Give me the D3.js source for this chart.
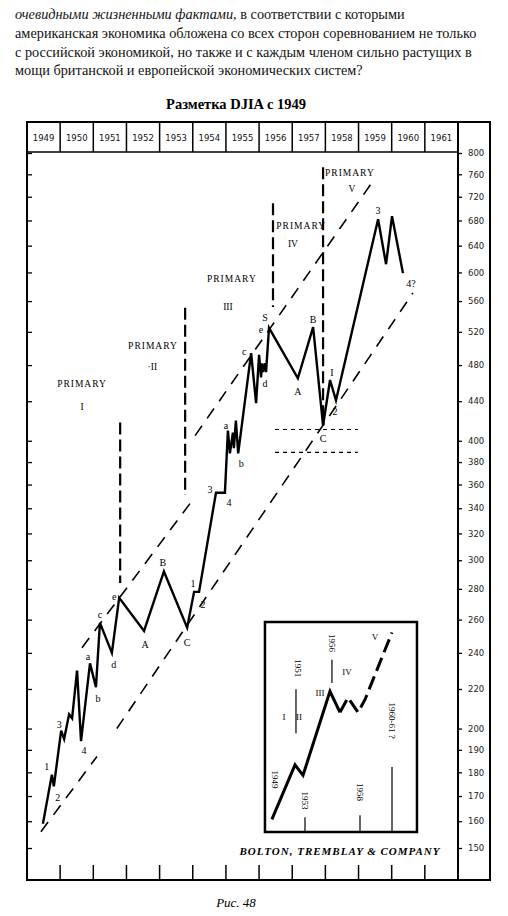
<!DOCTYPE html>
<html><head><meta charset="utf-8">
<script src="https://cdn.jsdelivr.net/npm/d3@7"></script>
<style>body{margin:0;background:#fff}svg{display:block}</style>
</head><body>
<script>
// ---------- data ----------
const years = ["1949","1950","1951","1952","1953","1954","1955","1956","1957","1958","1959","1960","1961"];
const yTicks = [150,160,170,180,190,200,220,240,260,280,300,320,340,360,380,400,440,480,520,560,600,640,680,720,760,800];
const priceYear = [1949.48,1949.75,1949.81,1950.03,1950.12,1950.27,1950.36,1950.51,1950.63,1950.90,1951.08,1951.20,1951.56,1951.78,1952.53,1953.13,1953.83,1954.04,1954.19,1954.70,1954.97,1955.06,1955.12,1955.21,1955.24,1955.30,1955.37,1955.76,1955.91,1956.00,1956.06,1956.09,1956.12,1956.18,1956.21,1956.30,1957.17,1957.63,1957.93,1958.14,1958.32,1959.59,1959.83,1960.01,1960.34];
const priceValue = [159,179,174,199,195,207,205,230,194,234,221,258,240,274,253,292,255,278,278,353,353,410,388,408,393,420,388,494,438,492,466,482,472,482,472,525,465,526,415,463,441,682,612,687,599];
// wave labels: [point index, text, dx, dy]
const waveLabels = [[1,"1",-5,-8],[2,"2",4,12],[3,"3",-2,-6],[8,"4",3,10],[9,"a",-2,-6],[10,"b",2,12],[11,"c",0,-8],[12,"d",2,12],[13,"e",-5,-1],[14,"A",1,14],[15,"B",-1,-8],[16,"C",0,15],[17,"1",-1,-8],[18,"2",4,13],[19,"3",-6,-3],[20,"4",4,10],[21,"a",-2,-5],[26,"b",3,11],[27,"c",-7,-1],[34,"d",-1,12],[35,"e",-8,2],[35,"S",-4,-10],[36,"A",0,14],[37,"B",0,-7],[38,"C",0,14],[39,"I",2,-7],[40,"2",-1,12],[41,"3",0,-8],[44,"4?",8,11]];
const primaryYear = [1950.66,1952.80,1955.18,1957.27,1958.74];
const primaryValue = [460,504,592,673,764];
const primaryNum = ["I","·II","III","IV","V"];
const primaryNumYear = [1950.66,1952.78,1955.06,1957.02,1958.80];
const primaryNumValue = [435,479,553,644,735];
// channel lines [y0,v0,y1,v1]
const channels = [[1950.66,243,1953.92,344],[1954.07,405,1959.44,748],[1949.42,156,1951.11,187],[1951.71,200,1960.64,571]];
const hDotted = [[1956.48,1958.98,411],[1956.48,1958.98,389]];
const vDashed = [[1951.81,418,284],[1953.77,551,351],[1956.42,709,552],[1957.93,773,415]];
// inset schematic
const insetYear = [1949.99,1952.09,1952.82,1955.27,1956.18,1956.91,1957.82,1958.45,1960.91];
const insetLevel = [6,32,27,67,57,64,57,63,95];
const insetTicks = [[1953,7,0],[1958,8,0],[1960.91,31,0],[1952.18,68,47],[1955.45,82,71]];
const insetYearLabels = [["1949",1950.27,25],["1953",1953,15],["1951",1952.36,78],["1956",1955.45,90],["1958",1958,19],["1960-61 ?",1960.91,53]];
const insetWaves = [["I",1951.1,55],["II",1952.45,55],["III",1954.36,66],["IV",1956.82,76],["V",1959.36,93]];

// ---------- drawing ----------
const W=508,H=916;
const svg=d3.select("body").append("svg").attr("width",W).attr("height",H);
const serif="'Liberation Serif','DejaVu Serif',serif";
const L=27,R=458,RA=490,T=122,HB=152,B=880;
const x=d3.scaleLinear().domain([1949,1962]).range([L,R]);
const y=d3.scaleLog().domain([150,800]).range([848,153]);

// paragraph
const para=svg.append("text").attr("font-family",serif).attr("font-size",14.3).attr("fill","#111");
const l1=para.append("tspan").attr("x",15).attr("y",19);
l1.append("tspan").attr("font-style","italic").text("очевидными жизненными фактами");
l1.append("tspan").text(", в соответствии с которыми");
["американская экономика обложена со всех сторон соревнованием не только","с российской экономикой, но также и с каждым членом сильно растущих в","мощи британской и европейской экономических систем?"].forEach((t,i)=>
  para.append("tspan").attr("x",15).attr("y",38+i*18.5).text(t));
svg.append("text").attr("x",236).attr("y",109).attr("text-anchor","middle").attr("font-family",serif)
  .attr("font-weight","bold").attr("font-size",14.5).text("Разметка DJIA с 1949");

// frame
const g=svg.append("g").attr("stroke","#000").attr("fill","none");
g.append("rect").attr("x",L).attr("y",T).attr("width",RA-L).attr("height",B-T).attr("stroke-width",2);
g.append("line").attr("x1",R).attr("x2",R).attr("y1",T).attr("y2",B).attr("stroke-width",2);
g.append("line").attr("x1",L).attr("x2",R).attr("y1",HB).attr("y2",HB).attr("stroke-width",1.5);
years.forEach((yr,i)=>{
  if(i>0) g.append("line").attr("x1",x(1949+i)).attr("x2",x(1949+i)).attr("y1",T).attr("y2",HB).attr("stroke-width",1.5);
  svg.append("text").attr("x",x(1949.5+i)).attr("y",141).attr("text-anchor","middle").attr("font-family","'DejaVu Sans',sans-serif")
    .attr("font-size",8.5).attr("fill","#111").text(yr);
  if(i>0) g.append("line").attr("x1",x(1949+i)).attr("x2",x(1949+i)).attr("y1",B-15).attr("y2",B).attr("stroke-width",1.5);
});
// right axis
const ax=svg.append("g").attr("transform",`translate(${R},0)`)
  .call(d3.axisRight(y).tickValues(yTicks).tickFormat(d3.format("d")).tickSize(4).tickPadding(6));
ax.select(".domain").remove();
ax.selectAll("text").attr("font-family","'DejaVu Sans',sans-serif").attr("font-size",8.5).attr("fill","#222");
ax.selectAll("line").attr("stroke-width",1.3);
// left ticks
const axl=svg.append("g").attr("transform",`translate(${L},0)`)
  .call(d3.axisRight(y).tickValues(yTicks).tickFormat("").tickSize(5));
axl.select(".domain").remove(); axl.selectAll("line").attr("stroke-width",1.3);

// channels
channels.forEach(c=>g.append("line").attr("x1",x(c[0])).attr("y1",y(c[1])).attr("x2",x(c[2])).attr("y2",y(c[3]))
  .attr("stroke-width",1.6).attr("stroke-dasharray","12,9"));
hDotted.forEach(h=>g.append("line").attr("x1",x(h[0])).attr("x2",x(h[1])).attr("y1",y(h[2])).attr("y2",y(h[2]))
  .attr("stroke-width",1.2).attr("stroke-dasharray","4,4"));
vDashed.forEach(v=>g.append("line").attr("x1",x(v[0])).attr("x2",x(v[0])).attr("y1",y(v[1])).attr("y2",y(v[2]))
  .attr("stroke-width",2.2).attr("stroke-dasharray","12,5"));

// price
const pts=priceYear.map((d,i)=>[d,priceValue[i]]);
g.append("path").attr("d",d3.line().x(d=>x(d[0])).y(d=>y(d[1]))(pts)).attr("stroke-width",2.4).attr("stroke-linejoin","miter");
waveLabels.forEach(w=>svg.append("text").attr("x",x(pts[w[0]][0])+w[2]).attr("y",y(pts[w[0]][1])+w[3]+3)
  .attr("text-anchor","middle").attr("font-family",serif).attr("font-size",10).text(w[1]));
primaryYear.forEach((d,i)=>{
  svg.append("text").attr("x",x(d)).attr("y",y(primaryValue[i])+4).attr("text-anchor","middle").attr("font-family",serif)
    .attr("font-size",9.5).attr("letter-spacing",1).text("PRIMARY");
  svg.append("text").attr("x",x(primaryNumYear[i])).attr("y",y(primaryNumValue[i])+4).attr("text-anchor","middle").attr("font-family",serif)
    .attr("font-size",9.5).text(primaryNum[i]);
});

// inset
const ix=d3.scaleLinear().domain([1953,1958]).range([305,360]);
const iy=d3.scaleLinear().domain([0,100]).range([832,622]);
g.append("rect").attr("x",ix(1949.36)).attr("y",iy(100)).attr("width",ix(1963.18)-ix(1949.36)).attr("height",iy(0)-iy(100)).attr("stroke-width",2.5);
const ipts=insetYear.map((d,i)=>[d,insetLevel[i]]);
const il=d3.line().x(d=>ix(d[0])).y(d=>iy(d[1]));
g.append("path").attr("d",il(ipts.slice(0,5))).attr("stroke-width",3);
g.append("path").attr("d",il(ipts.slice(4))).attr("stroke-width",3).attr("stroke-dasharray","14,6");
insetTicks.forEach(t=>g.append("line").attr("x1",ix(t[0])).attr("x2",ix(t[0])).attr("y1",iy(t[1])).attr("y2",iy(t[2])).attr("stroke-width",1.2));
insetYearLabels.forEach(t=>svg.append("text").attr("transform",`translate(${ix(t[1])-3},${iy(t[2])}) rotate(90)`)
  .attr("text-anchor","middle").attr("font-family",serif).attr("font-size",9).text(t[0]));
insetWaves.forEach(t=>svg.append("text").attr("x",ix(t[1])).attr("y",iy(t[2])+3).attr("text-anchor","middle")
  .attr("font-family",serif).attr("font-size",9).text(t[0]));
svg.append("text").attr("x",340).attr("y",855).attr("text-anchor","middle").attr("font-family",serif).attr("font-style","italic")
  .attr("font-weight","bold").attr("font-size",11).attr("letter-spacing",1).text("BOLTON, TREMBLAY & COMPANY");
svg.append("text").attr("x",236).attr("y",907).attr("text-anchor","middle").attr("font-family",serif).attr("font-style","italic")
  .attr("font-size",13).text("Рис. 48");
</script></body></html>
